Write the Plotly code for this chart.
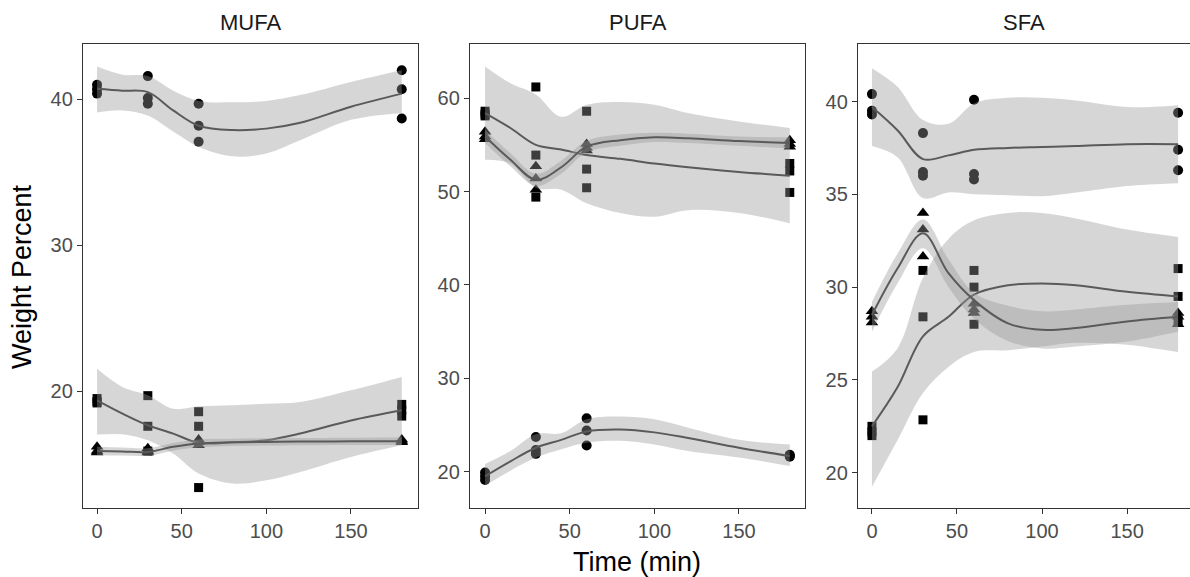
import plotly.graph_objects as go

# ---------------- data ----------------
TIMES = [0, 30, 60, 180]
PANELS = ["MUFA", "PUFA", "SFA"]
X_TICKS = [0, 50, 100, 150]

MUFA_CIRCLE = [[41.0, 40.7, 40.4], [41.6, 40.1, 39.7], [39.7, 38.2, 37.1], [42.0, 40.7, 38.7]]
MUFA_SQUARE = [[19.5, 19.3, 19.2], [19.7, 17.6, 15.9], [18.6, 17.6, 13.4], [19.1, 18.7, 18.3]]
MUFA_TRIANGLE = [[16.2, 15.9, 15.8], [16.1, 15.9, 15.8], [16.7, 16.5, 16.3], [16.7, 16.6, 16.5]]

PUFA_CIRCLE = [[19.9, 19.5, 19.1], [23.7, 22.3, 21.9], [25.7, 24.4, 22.8], [21.8, 21.7, 21.6]]
PUFA_SQUARE = [[58.6, 58.3, 58.1], [61.2, 53.9, 49.4], [58.6, 52.4, 50.4], [53.0, 52.2, 49.9]]
PUFA_TRIANGLE = [[56.4, 55.9, 55.6], [52.7, 51.4, 50.2], [55.1, 54.7, 54.4], [55.5, 55.1, 54.8]]

SFA_CIRCLE = [[40.4, 39.5, 39.3], [38.3, 36.2, 36.0], [40.1, 36.1, 35.8], [39.4, 37.4, 36.3]]
SFA_SQUARE = [[22.5, 22.2, 22.0], [30.9, 28.4, 22.85], [30.9, 30.0, 28.0], [31.0, 29.5, 28.2]]
SFA_TRIANGLE = [[28.7, 28.4, 28.1], [34.0, 33.1, 31.65], [29.1, 28.8, 28.6], [28.6, 28.4, 28.0]]

# smoothed fits and confidence bands
SMOOTH_X = [0, 15, 30, 45, 60, 80, 100, 120, 150, 180]

MUFA_CIRCLE_FIT = [40.73, 40.6, 40.5, 39.25, 38.2, 37.9, 38.0, 38.4, 39.5, 40.4]
MUFA_CIRCLE_HI = [42.26, 41.7, 41.6, 40.6, 39.9, 39.8, 39.9, 40.3, 41.2, 42.0]
MUFA_CIRCLE_LO = [39.1, 39.25, 38.9, 37.8, 36.75, 36.1, 36.3, 37.2, 38.6, 39.06]
MUFA_SQUARE_FIT = [19.38, 18.47, 17.67, 17.1, 16.46, 16.5, 16.64, 17.1, 18.0, 18.7]
MUFA_SQUARE_HI = [21.55, 20.3, 19.73, 18.8, 18.97, 19.04, 19.15, 19.27, 20.07, 20.98]
MUFA_SQUARE_LO = [17.03, 17.05, 16.64, 15.73, 14.36, 13.68, 13.9, 14.47, 15.5, 16.3]
MUFA_TRIANGLE_FIT = [15.91, 15.88, 15.84, 16.19, 16.42, 16.5, 16.53, 16.55, 16.57, 16.58]
MUFA_TRIANGLE_HI = [16.2, 16.15, 16.1, 16.45, 16.7, 16.75, 16.78, 16.8, 16.82, 16.85]
MUFA_TRIANGLE_LO = [15.62, 15.6, 15.58, 15.93, 16.14, 16.25, 16.28, 16.3, 16.32, 16.31]

PUFA_CIRCLE_FIT = [19.5, 21.1, 22.55, 23.4, 24.3, 24.5, 24.2, 23.6, 22.55, 21.67]
PUFA_CIRCLE_HI = [20.8, 22.2, 24.0, 24.1, 25.6, 25.9, 25.6, 24.7, 23.4, 22.9]
PUFA_CIRCLE_LO = [18.5, 20.1, 21.5, 22.4, 23.1, 23.3, 22.9, 22.2, 21.5, 20.6]
PUFA_SQUARE_FIT = [58.4, 56.8, 55.0, 54.5, 53.9, 53.5, 53.0, 52.6, 52.1, 51.7]
PUFA_SQUARE_HI = [63.4, 61.6, 60.4, 58.0, 59.3, 59.6, 59.3, 58.4, 57.5, 56.8]
PUFA_SQUARE_LO = [53.4, 53.0, 50.4, 50.2, 48.75, 47.7, 47.3, 48.0, 47.7, 46.6]
PUFA_TRIANGLE_FIT = [55.9, 53.4, 51.25, 52.6, 54.8, 55.5, 55.8, 55.7, 55.4, 55.2]
PUFA_TRIANGLE_HI = [56.6, 54.1, 51.9, 53.3, 55.4, 56.1, 56.3, 56.2, 55.9, 55.8]
PUFA_TRIANGLE_LO = [55.2, 52.7, 50.6, 51.9, 54.2, 54.9, 55.3, 55.2, 54.9, 54.6]

SFA_CIRCLE_FIT = [39.7, 38.45, 36.9, 37.1, 37.4, 37.5, 37.55, 37.6, 37.7, 37.7]
SFA_CIRCLE_HI = [41.8, 40.8, 39.0, 38.8, 39.9, 40.2, 40.2, 40.05, 39.7, 39.8]
SFA_CIRCLE_LO = [37.6, 37.0, 34.8, 35.1, 35.0, 34.95, 34.9, 35.1, 35.45, 35.6]
SFA_SQUARE_FIT = [22.5, 24.6, 27.35, 28.4, 29.6, 30.1, 30.2, 30.1, 29.75, 29.5]
SFA_SQUARE_HI = [25.45, 26.7, 30.5, 32.6, 33.6, 34.0, 34.0, 33.7, 33.1, 32.7]
SFA_SQUARE_LO = [19.25, 21.75, 24.3, 25.7, 26.5, 26.6, 26.8, 27.0, 26.9, 26.5]
SFA_TRIANGLE_FIT = [28.5, 31.0, 32.9, 30.75, 29.3, 28.05, 27.7, 27.8, 28.15, 28.4]
SFA_TRIANGLE_HI = [29.2, 31.8, 33.65, 31.5, 29.7, 29.0, 28.7, 28.8, 29.05, 29.2]
SFA_TRIANGLE_LO = [27.6, 30.2, 32.1, 30.0, 28.3, 27.1, 26.7, 26.8, 27.07, 27.6]

Y_TICKS = {"MUFA": [20, 30, 40], "PUFA": [20, 30, 40, 50, 60], "SFA": [20, 25, 30, 35, 40]}

POINTS = {
    "MUFA": [("circle", MUFA_CIRCLE), ("square", MUFA_SQUARE), ("triangle-up", MUFA_TRIANGLE)],
    "PUFA": [("circle", PUFA_CIRCLE), ("square", PUFA_SQUARE), ("triangle-up", PUFA_TRIANGLE)],
    "SFA": [("circle", SFA_CIRCLE), ("square", SFA_SQUARE), ("triangle-up", SFA_TRIANGLE)],
}
SMOOTHS = {
    "MUFA": [(MUFA_CIRCLE_FIT, MUFA_CIRCLE_LO, MUFA_CIRCLE_HI),
             (MUFA_SQUARE_FIT, MUFA_SQUARE_LO, MUFA_SQUARE_HI),
             (MUFA_TRIANGLE_FIT, MUFA_TRIANGLE_LO, MUFA_TRIANGLE_HI)],
    "PUFA": [(PUFA_CIRCLE_FIT, PUFA_CIRCLE_LO, PUFA_CIRCLE_HI),
             (PUFA_SQUARE_FIT, PUFA_SQUARE_LO, PUFA_SQUARE_HI),
             (PUFA_TRIANGLE_FIT, PUFA_TRIANGLE_LO, PUFA_TRIANGLE_HI)],
    "SFA": [(SFA_CIRCLE_FIT, SFA_CIRCLE_LO, SFA_CIRCLE_HI),
            (SFA_SQUARE_FIT, SFA_SQUARE_LO, SFA_SQUARE_HI),
            (SFA_TRIANGLE_FIT, SFA_TRIANGLE_LO, SFA_TRIANGLE_HI)],
}

# ---------------- layout constants ----------------
W, H = 1190, 577
X_DOMAINS = [(83, 418), (470, 805), (858, 1190)]
X_RANGES = [(-8.3, 189.6), (-8.9, 189.0), (-8.2, 187.0)]
Y_RANGES = {"MUFA": (12.0, 43.8), "PUFA": (16.1, 65.8), "SFA": (18.1, 43.1)}
Y_DOMAIN = (1 - 508 / H, 1 - 44 / H)

FONT = "Liberation Sans, Arial, sans-serif"
BAND = "rgba(153,153,153,0.4)"
LINE = "#5a5a5a"

fig = go.Figure()

for i, panel in enumerate(PANELS):
    xa = "x" if i == 0 else f"x{i+1}"
    ya = "y" if i == 0 else f"y{i+1}"
    # points first (ggplot draws points below smooth ribbons)
    for symbol, reps in POINTS[panel]:
        xs, ys = [], []
        for t, vals in zip(TIMES, reps):
            for v in vals:
                xs.append(t)
                ys.append(v)
        fig.add_trace(go.Scatter(
            x=xs, y=ys, mode="markers", xaxis=xa, yaxis=ya, showlegend=False,
            marker=dict(symbol=symbol, color="black",
                        size=11 if symbol == "triangle-up" else (9 if symbol == "square" else 10),
                        line=dict(width=0)),
            hoverinfo="x+y"))
    for fit, lo, hi in SMOOTHS[panel]:
        fig.add_trace(go.Scatter(
            x=SMOOTH_X, y=lo, mode="lines", xaxis=xa, yaxis=ya, showlegend=False,
            line=dict(width=0, shape="spline", smoothing=1.0), hoverinfo="skip"))
        fig.add_trace(go.Scatter(
            x=SMOOTH_X, y=hi, mode="lines", xaxis=xa, yaxis=ya, showlegend=False,
            fill="tonexty", fillcolor=BAND,
            line=dict(width=0, shape="spline", smoothing=1.0), hoverinfo="skip"))
        fig.add_trace(go.Scatter(
            x=SMOOTH_X, y=fit, mode="lines", xaxis=xa, yaxis=ya, showlegend=False,
            line=dict(color=LINE, width=2, shape="spline", smoothing=1.0)))

axis_common = dict(
    showline=True, mirror=True, linecolor="#333333", linewidth=1.3,
    ticks="outside", ticklen=5, tickwidth=1.2, tickcolor="#333333",
    showgrid=False, zeroline=False,
    tickfont=dict(family=FONT, size=20, color="#4d4d4d"),
)

layout = dict(
    width=W, height=H,
    margin=dict(l=0, r=0, t=0, b=0),
    paper_bgcolor="white", plot_bgcolor="white",
    showlegend=False,
    font=dict(family=FONT),
)
for i, panel in enumerate(PANELS):
    xk = "xaxis" if i == 0 else f"xaxis{i+1}"
    yk = "yaxis" if i == 0 else f"yaxis{i+1}"
    xa_anchor = "y" if i == 0 else f"y{i+1}"
    ya_anchor = "x" if i == 0 else f"x{i+1}"
    d0, d1 = X_DOMAINS[i]
    layout[xk] = dict(axis_common, domain=[d0 / W, d1 / W], range=list(X_RANGES[i]),
                      tickvals=X_TICKS, anchor=xa_anchor)
    layout[yk] = dict(axis_common, domain=list(Y_DOMAIN), range=list(Y_RANGES[panel]),
                      tickvals=Y_TICKS[panel], anchor=ya_anchor)

annotations = []
for i, panel in enumerate(PANELS):
    d0, d1 = X_DOMAINS[i]
    annotations.append(dict(
        text=panel, x=(d0 + d1) / 2 / W, y=1 - 22 / H, xref="paper", yref="paper",
        showarrow=False, xanchor="center", yanchor="middle",
        font=dict(family=FONT, size=22, color="#1a1a1a")))
annotations.append(dict(
    text="Time (min)", x=637 / W, y=1 - 562 / H, xref="paper", yref="paper",
    showarrow=False, xanchor="center", yanchor="middle",
    font=dict(family=FONT, size=27, color="black")))
annotations.append(dict(
    text="Weight Percent", x=22 / W, y=1 - 277 / H, xref="paper", yref="paper",
    showarrow=False, xanchor="center", yanchor="middle", textangle=-90,
    font=dict(family=FONT, size=27, color="black")))
layout["annotations"] = annotations

fig.update_layout(**layout)
fig.write_html(
    "out.html",
    config={"displayModeBar": False},
    post_script="document.body.style.margin='0px';document.body.style.overflow='hidden';",
)
